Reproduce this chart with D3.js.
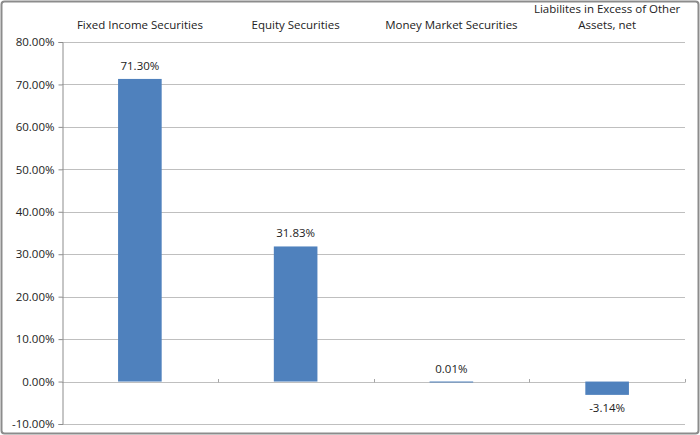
<!DOCTYPE html>
<html><head><meta charset="utf-8">
<script src="https://cdn.jsdelivr.net/npm/d3@7"></script>
<style>html,body{margin:0;padding:0;background:#fff;}svg{display:block;}</style>
</head><body>
<svg id="chart" width="700" height="435"></svg>
<script>
const categories = ["Fixed Income Securities", "Equity Securities", "Money Market Securities", "Liabilites in Excess of Other Assets, net"];
const categoryLines = [["Fixed Income Securities"], ["Equity Securities"], ["Money Market Securities"], ["Liabilites in Excess of Other", "Assets, net"]];
const values = [71.30, 31.83, 0.01, -3.14];
const valueLabels = ["71.30%", "31.83%", "0.01%", "-3.14%"];
const yTicks = [-10, 0, 10, 20, 30, 40, 50, 60, 70, 80];

const svg = d3.select("#chart");
const W = 700, H = 435;
const m = {left: 62, right: 15, top: 42, bottom: 11};
const font = "'Open Sans', 'Noto Sans', sans-serif";

svg.append("rect").attr("x", 1.5).attr("y", 1.5).attr("width", W - 3).attr("height", H - 3)
  .attr("rx", 3).attr("fill", "#fff").attr("stroke", "#8c8c8c").attr("stroke-width", 2);

const x = d3.scaleBand().domain(categories).range([m.left, W - m.right]).paddingInner(0.72).paddingOuter(0.36);
const y = d3.scaleLinear().domain([-10, 80]).range([H - m.bottom, m.top]);

// gridlines
svg.append("g").selectAll("line").data(yTicks).join("line")
  .attr("x1", m.left).attr("x2", W - m.right)
  .attr("y1", d => Math.round(y(d)) + 0.5).attr("y2", d => Math.round(y(d)) + 0.5)
  .attr("stroke", "#bfbfbf").attr("stroke-width", 1);

// y axis
const yAxis = d3.axisLeft(y).tickValues(yTicks).tickFormat(d => d.toFixed(2) + "%").tickSize(4).tickPadding(4);
const gy = svg.append("g").attr("transform", `translate(${m.left + 0.5},0)`).call(yAxis);
gy.select(".domain").attr("stroke", "#8c8c8c");
gy.selectAll(".tick line").attr("stroke", "#8c8c8c");
gy.selectAll(".tick text").attr("font-family", font).attr("font-size", 11.5).attr("fill", "#222");

// x axis at zero with boundary ticks
const step = x.step();
const bounds = d3.range(categories.length + 1).map(i => m.left + i * step);
svg.append("g").selectAll("line").data(bounds.slice(1)).join("line")
  .attr("x1", d => Math.round(d) + 0.5).attr("x2", d => Math.round(d) + 0.5)
  .attr("y1", Math.round(y(0)) - 3).attr("y2", Math.round(y(0)) + 0.5)
  .attr("stroke", "#a6a6a6");

// bars
svg.append("g").selectAll("rect").data(values).join("rect")
  .attr("x", (d, i) => x(categories[i]))
  .attr("width", x.bandwidth())
  .attr("y", d => y(Math.max(0, d)))
  .attr("height", d => Math.max(1, Math.abs(y(d) - y(0))))
  .attr("fill", "#4f81bd");

// value labels
svg.append("g").selectAll("text").data(values).join("text")
  .attr("x", (d, i) => x(categories[i]) + x.bandwidth() / 2)
  .attr("y", d => d >= 0 ? y(d) - 9 : y(d) + 17)
  .attr("text-anchor", "middle")
  .attr("font-family", font).attr("font-size", 11.5).attr("fill", "#222")
  .text((d, i) => valueLabels[i]);

// category labels on top
const cg = svg.append("g");
categoryLines.forEach((lines, i) => {
  const cx = x(categories[i]) + x.bandwidth() / 2;
  const t = cg.append("text").attr("text-anchor", "middle")
    .attr("font-family", font).attr("font-size", 11.5).attr("fill", "#222");
  lines.forEach((ln, j) => {
    t.append("tspan").attr("x", cx).attr("y", 29 - (lines.length - 1 - j) * 16).text(ln);
  });
});
</script>
</body></html>
